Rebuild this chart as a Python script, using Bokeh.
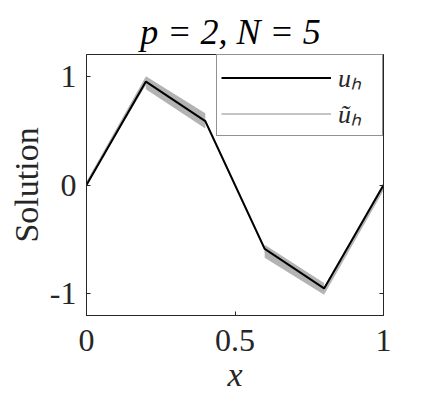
from bokeh.plotting import figure
from bokeh.models import Range1d, LinearAxis, FixedTicker, Legend, LegendItem
from bokeh.embed import file_html
from bokeh.resources import INLINE

# ---- data ----
x_nodes = [0.0, 0.2, 0.4, 0.6, 0.8, 1.0]
u_h = [0.0, 0.951, 0.588, -0.588, -0.951, 0.0]

# u~_h per element: band (lower/upper value at left and right end of each element)
elem_left = [0.0, 0.2, 0.4, 0.6, 0.8]
elem_right = [0.2, 0.4, 0.6, 0.8, 1.0]
ut_lo_left = [0.00, 0.88, 0.575, -0.67, -1.01]
ut_lo_right = [0.92, 0.52, -0.600, -1.01, -0.05]
ut_hi_left = [0.03, 1.00, 0.600, -0.55, -0.94]
ut_hi_right = [1.00, 0.66, -0.575, -0.90, 0.00]

x_ticks = [0, 0.5, 1]
x_tick_labels = ["0", "0.5", "1"]
y_ticks = [-1, 0, 1]
y_tick_labels = ["-1", "0", "1"]

title_text = "p = 2,  N = 5"
x_label = "x"
y_label = "Solution"
legend_labels = ["u\u2095", "\u0169\u2095"]

SERIF = "Liberation Serif"
AX = "#262626"

p = figure(width=423, height=407, output_backend="svg", toolbar_location=None,
           x_range=Range1d(0, 1), y_range=Range1d(-1.2, 1.2),
           min_border_left=86, min_border_right=40, min_border_top=54, min_border_bottom=92)

p.title.text = title_text
p.title.align = "center"
p.title.text_font = SERIF
p.title.text_font_style = "italic"
p.title.text_font_size = "36px"
p.title.text_color = "black"
p.title.standoff = 6

p.grid.visible = False
p.outline_line_color = AX
p.outline_line_width = 1
p.outline_line_alpha = 1

for ax, ticks, labels, lab in ((p.xaxis[0], x_ticks, x_tick_labels, x_label),
                               (p.yaxis[0], y_ticks, y_tick_labels, y_label)):
    ax.ticker = FixedTicker(ticks=ticks)
    ax.major_label_overrides = {t: l for t, l in zip(ticks, labels)}
    ax.major_tick_in = 4
    ax.major_tick_out = 0
    ax.minor_tick_line_color = None
    ax.axis_line_color = AX
    ax.major_tick_line_color = AX
    ax.major_label_text_font = SERIF
    ax.major_label_text_font_size = "32px"
    ax.major_label_text_color = AX
    ax.axis_label = lab
    ax.axis_label_text_font = SERIF
    ax.axis_label_text_font_size = "34px"
    ax.axis_label_text_color = AX

p.xaxis.axis_label_text_font_style = "italic"
p.yaxis.axis_label_text_font_style = "normal"
p.xaxis.major_label_standoff = 14
p.xaxis.axis_label_standoff = 2
p.yaxis.major_label_standoff = 10
p.yaxis.axis_label_standoff = 2

# right axis: ticks only
rax = LinearAxis(ticker=FixedTicker(ticks=y_ticks), major_tick_in=4, major_tick_out=0,
                 minor_tick_line_color=None, axis_line_color=AX, major_tick_line_color=AX,
                 major_label_overrides={t: "" for t in y_ticks}, major_label_standoff=0)
p.add_layout(rax, "right")

# u~_h: centre line (used for the legend), covered by its band
ut_xs = [[elem_left[i], elem_right[i]] for i in range(len(elem_left))]
ut_ys = [[(ut_lo_left[i] + ut_hi_left[i]) / 2, (ut_lo_right[i] + ut_hi_right[i]) / 2]
         for i in range(len(elem_left))]
r_ut = p.multi_line(ut_xs, ut_ys, line_color="#c4c4c4", line_width=2)

for i in range(len(elem_left)):
    p.varea(x=[elem_left[i], elem_right[i]],
            y1=[ut_lo_left[i], ut_lo_right[i]],
            y2=[ut_hi_left[i], ut_hi_right[i]],
            fill_color="#b3b3b3", fill_alpha=1)

r_uh = p.line(x_nodes, u_h, line_color="black", line_width=2)

legend = Legend(items=[LegendItem(label=legend_labels[0], renderers=[r_uh]),
                       LegendItem(label=legend_labels[1], renderers=[r_ut])],
                location="top_right", margin=0, padding=4, spacing=0,
                glyph_width=110, glyph_height=35, label_height=35, label_width=40,
                label_standoff=7,
                label_text_font=SERIF, label_text_font_style="italic",
                label_text_font_size="26px", label_text_color=AX,
                border_line_color=AX, border_line_width=1,
                background_fill_color="white", background_fill_alpha=1)
p.add_layout(legend)

open("out.html", "w").write(file_html(p, INLINE))
